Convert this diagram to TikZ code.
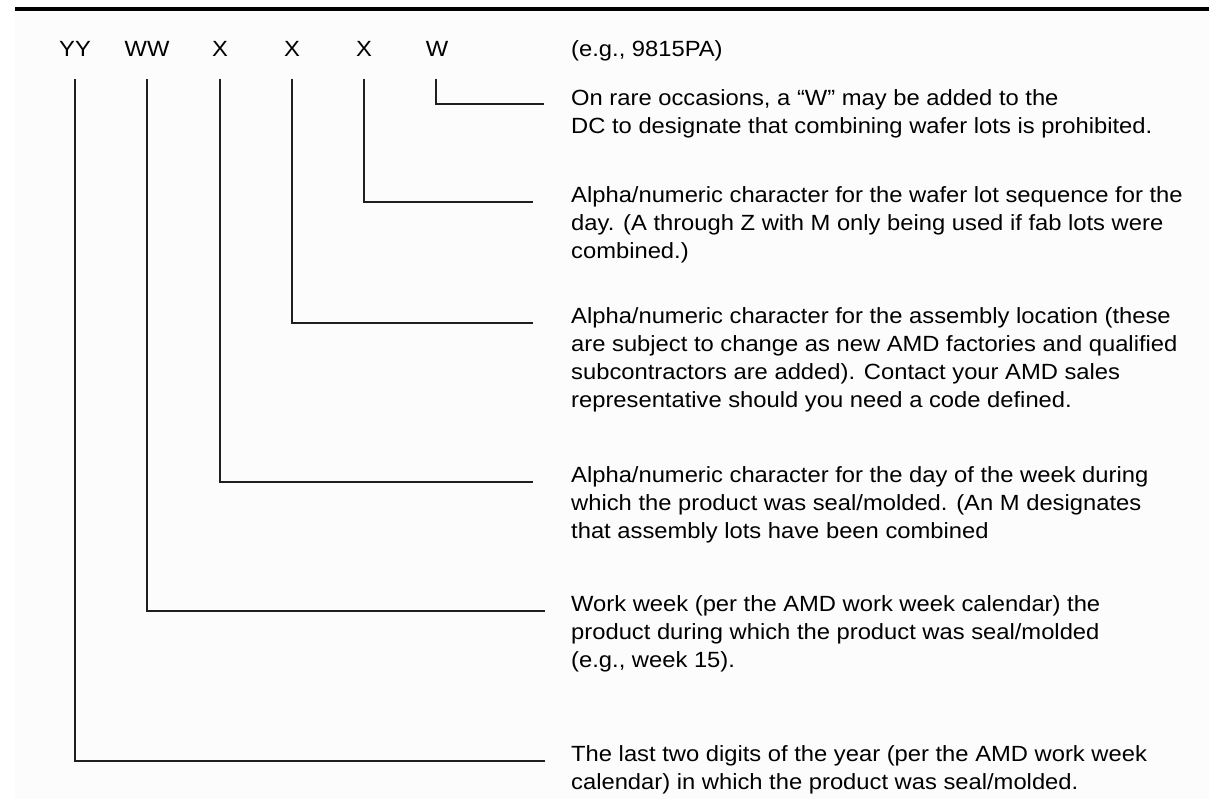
\documentclass[tikz,border=0pt]{standalone}
\usepackage{fontspec}
\setmainfont[FakeStretch=1.08]{Liberation Sans}
\begin{document}
\begin{tikzpicture}[x=1pt,y=-1pt,
  txt/.style={font=\fontsize{22}{28}\selectfont, inner sep=0pt},
  lbl/.style={txt, anchor=base},
  desc/.style={txt, anchor=north west, align=left},
  conn/.style={draw=black!88, line width=1.6pt}]
\useasboundingbox (0,0) rectangle (1209,799);
\fill[black!1] (15,12) rectangle (1209,799);
\fill[black] (15,7) rectangle (1209,11.5);

% code letters
\node[lbl] (lYY) at (75,57) {YY};
\node[lbl] (lWW) at (147,57) {WW};
\node[lbl] (lXa) at (220,57) {X};
\node[lbl] (lXb) at (292,57) {X};
\node[lbl] (lXc) at (364,57) {X};
\node[lbl] (lW)  at (437,57) {W};
\node[txt, anchor=base west] (eg) at (571,57) {(e.g., 9815PA)};

% descriptions (first baseline = y + 17)
\node[desc] (dW) at (571,88) {\rule{0pt}{17pt}On rare occasions, a “W” may be added to the\\DC to designate that combining wafer lots is prohibited.};
\node[desc] (dXc) at (571,185) {\rule{0pt}{17pt}Alpha/numeric character for the wafer lot sequence for the\\day. (A through Z with M only being used if fab lots were\\combined.)};
\node[desc] (dXb) at (571,306) {\rule{0pt}{17pt}Alpha/numeric character for the assembly location (these\\are subject to change as new AMD factories and qualified\\subcontractors are added). Contact your AMD sales\\representative should you need a code defined.};
\node[desc] (dXa) at (571,465) {\rule{0pt}{17pt}Alpha/numeric character for the day of the week during\\which the product was seal/molded. (An M designates\\that assembly lots have been combined};
\node[desc] (dWW) at (571,594) {\rule{0pt}{17pt}Work week (per the AMD work week calendar) the\\product during which the product was seal/molded\\(e.g., week 15).};
\node[desc] (dYY) at (571,744) {\rule{0pt}{17pt}The last two digits of the year (per the AMD work week\\calendar) in which the product was seal/molded.};

% connector coordinates
\coordinate (sW)  at (436,79);  \coordinate (eW)  at (544,104);
\coordinate (sXc) at (364,79);  \coordinate (eXc) at (533,202);
\coordinate (sXb) at (292,79);  \coordinate (eXb) at (533,323);
\coordinate (sXa) at (220,79);  \coordinate (eXa) at (533,482);
\coordinate (sWW) at (147,79);  \coordinate (eWW) at (545,611);
\coordinate (sYY) at (75,79);   \coordinate (eYY) at (545,761);

\draw[conn] (sW)  |- (eW);
\draw[conn] (sXc) |- (eXc);
\draw[conn] (sXb) |- (eXb);
\draw[conn] (sXa) |- (eXa);
\draw[conn] (sWW) |- (eWW);
\draw[conn] (sYY) |- (eYY);
\end{tikzpicture}
\end{document}
